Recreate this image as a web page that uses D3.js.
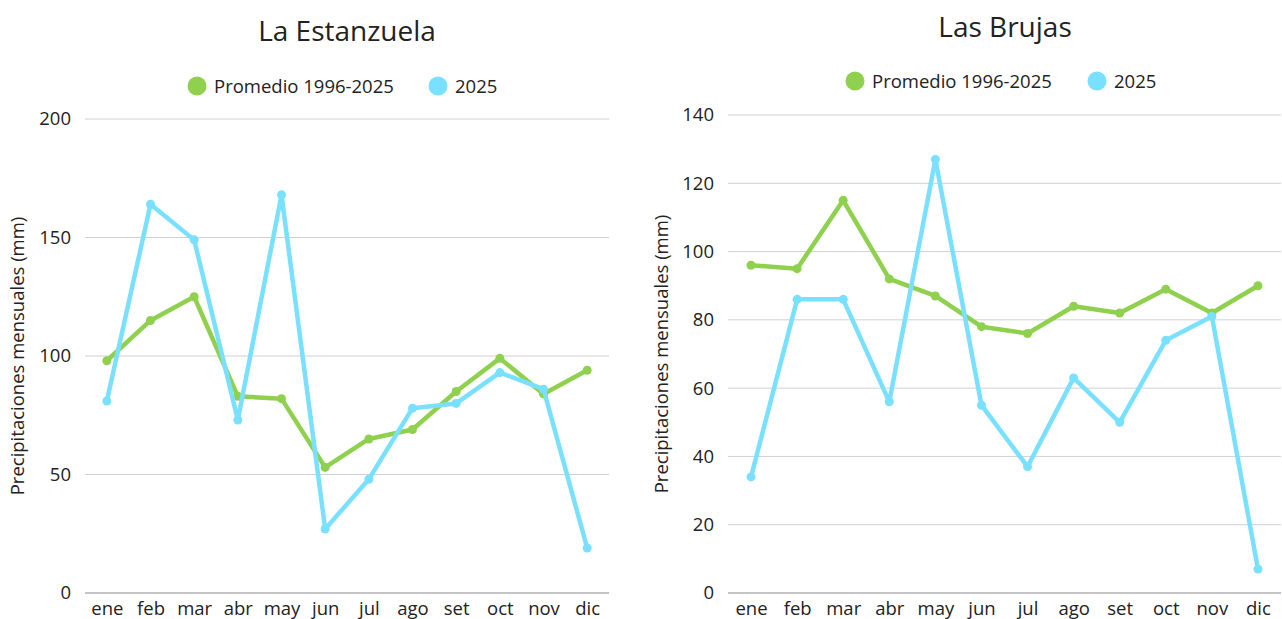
<!DOCTYPE html>
<html>
<head>
<meta charset="utf-8">
<script src="https://cdn.jsdelivr.net/npm/d3@7"></script>
<style>
  body { margin: 0; background: #fff; }
  text { font-family: "Open Sans", sans-serif; fill: #222; }
</style>
</head>
<body>
<script>
// data
const months = ['ene', 'feb', 'mar', 'abr', 'may', 'jun', 'jul', 'ago', 'set', 'oct', 'nov', 'dic'];
const seriesNames = ['Promedio 1996-2025', '2025'];
const estanzuelaProm = [98, 115, 125, 83, 82, 53, 65, 69, 85, 99, 84, 94];
const estanzuela2025 = [81, 164, 149, 73, 168, 27, 48, 78, 80, 93, 86, 19];
const brujasProm = [96, 95, 115, 92, 87, 78, 76, 84, 82, 89, 82, 90];
const brujas2025 = [34, 86, 86, 56, 127, 55, 37, 63, 50, 74, 81, 7];
const estanzuelaTicks = [0, 50, 100, 150, 200];
const brujasTicks = [0, 20, 40, 60, 80, 100, 120, 140];

const colors = ['#8fd14f', '#7ae0ff'];
const width = 1282, height = 619;
const fs = 18.5;

const svg = d3.select('body').append('svg').attr('width', width).attr('height', height);

// one panel per station
function panel(cfg) {
  const g = svg.append('g');
  const x = d3.scalePoint().domain(months).range([cfg.left, cfg.right]).padding(0.5);
  const y = d3.scaleLinear().domain([0, d3.max(cfg.ticks)]).range([cfg.bottom, cfg.top]);

  // gridlines
  g.append('g').selectAll('line').data(cfg.ticks.filter(t => t > 0)).join('line')
    .attr('x1', cfg.left).attr('x2', cfg.right)
    .attr('y1', d => y(d)).attr('y2', d => y(d))
    .attr('stroke', '#d0d0d0').attr('stroke-width', 1);
  g.append('line').attr('x1', cfg.left).attr('x2', cfg.right)
    .attr('y1', y(0)).attr('y2', y(0)).attr('stroke', '#8a8a8a').attr('stroke-width', 1);

  // y tick labels
  const yAxis = g.append('g').attr('transform', `translate(${cfg.left},0)`)
    .call(d3.axisLeft(y).tickValues(cfg.ticks).tickSize(0).tickPadding(14));
  yAxis.select('.domain').remove();
  yAxis.selectAll('text').style('font-size', fs + 'px').style('font-family', '"Open Sans", sans-serif').attr('fill', '#222');

  // x tick labels
  const xAxis = g.append('g').attr('transform', `translate(0,${cfg.bottom})`)
    .call(d3.axisBottom(x).tickSize(0).tickPadding(9));
  xAxis.select('.domain').remove();
  xAxis.selectAll('text').style('font-size', fs + 'px').style('font-family', '"Open Sans", sans-serif').attr('fill', '#222');

  // axis title
  g.append('text')
    .attr('transform', `translate(${cfg.titleX},${(cfg.top + cfg.bottom) / 2}) rotate(-90)`)
    .attr('text-anchor', 'middle').attr('font-size', 18.5)
    .text('Precipitaciones mensuales (mm)');

  // chart title
  g.append('text').attr('x', cfg.titleCx).attr('y', cfg.titleY)
    .attr('text-anchor', 'middle').attr('font-size', 28).text(cfg.title);

  // legend
  const leg = g.append('g').attr('transform', `translate(0,${cfg.legendY})`);
  seriesNames.forEach((name, i) => {
    leg.append('circle').attr('cx', cfg.legendX[i]).attr('cy', 0).attr('r', 9.5).attr('fill', colors[i]);
    leg.append('text').attr('x', cfg.legendX[i] + 17).attr('y', 6.5).attr('font-size', fs).text(name);
  });

  // lines and dots
  const line = d3.line().x((d, i) => x(months[i])).y(d => y(d));
  cfg.series.forEach((vals, i) => {
    g.append('path').datum(vals).attr('d', line)
      .attr('fill', 'none').attr('stroke', colors[i]).attr('stroke-width', 4.5)
      .attr('stroke-linejoin', 'round');
    g.append('g').selectAll('circle').data(vals).join('circle')
      .attr('cx', (d, j) => x(months[j])).attr('cy', d => y(d))
      .attr('r', 4.5).attr('fill', colors[i]);
  });
}

panel({
  title: 'La Estanzuela', titleCx: 347, titleY: 41,
  left: 85, right: 609, top: 119, bottom: 593,
  ticks: estanzuelaTicks, titleX: 24,
  legendY: 86, legendX: [197, 438],
  series: [estanzuelaProm, estanzuela2025]
});

panel({
  title: 'Las Brujas', titleCx: 1005, titleY: 37,
  left: 728, right: 1281, top: 115, bottom: 593,
  ticks: brujasTicks, titleX: 668,
  legendY: 81, legendX: [855, 1097],
  series: [brujasProm, brujas2025]
});
</script>
</body>
</html>
